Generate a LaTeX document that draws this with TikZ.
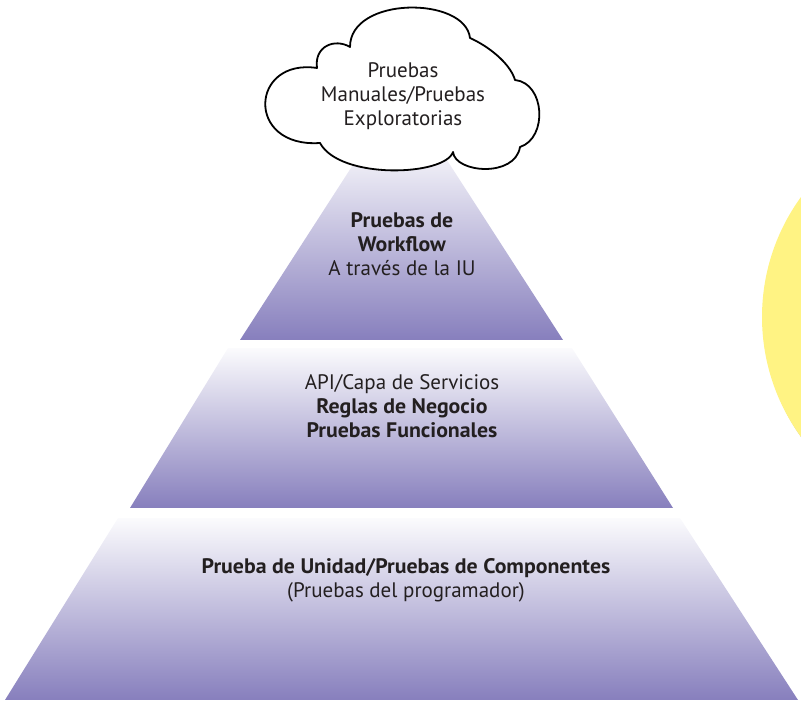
\documentclass[tikz,border=0pt]{standalone}
\usepackage{fontspec}
\setmainfont{PT Sans}[BoldFeatures={FakeStretch=1.04}]
\definecolor{pyrtop}{RGB}{251,251,253}
\definecolor{pyrbot}{RGB}{135,127,189}
\definecolor{sunyel}{RGB}{255,243,131}
\definecolor{textc}{RGB}{35,31,32}
\begin{document}
\begin{tikzpicture}[x=1pt,y=1pt,
  tier/.style={top color=pyrtop,bottom color=pyrbot},
  txt/.style={font=\fontsize{21}{24}\selectfont,align=center,text=textc,inner sep=0pt},
  cloudline/.style={draw=black,line width=1.8pt,fill=white,line join=round}]
\useasboundingbox (0,0) rectangle (801,708);
% yellow disc at right
\fill[black!30] (967.5,389) circle[radius=204pt];
\fill[sunyel] (966,391) circle[radius=204pt];
% pyramid tiers
\shade[tier] (240,368) -- (563,368) -- (434,568) -- (369,568) -- cycle;
\shade[tier] (130,200) -- (673,200) -- (572,360) -- (228,360) -- cycle;
\shade[tier] (5,8) -- (798,8) -- (680,190) -- (118,190) -- cycle;
% cloud
\path[cloudline] (317,640)
  .. controls (250,650) and (245,560) .. (320,565)
  .. controls (340,528) and (445,532) .. (453,556)
  .. controls (455,535) and (515,530) .. (520,561)
  .. controls (548,570) and (545,625) .. (515,628)
  .. controls (510,645) and (488,662) .. (470,670)
  .. controls (465,712) and (350,712) .. (350,661)
  .. controls (335,670) and (314,662) .. (317,640) -- cycle;
% texts
\node[txt] (cloudtxt) at (403,612) {Pruebas\\Manuales/Pruebas\\Exploratorias};
\node[txt] (toptxt) at (402,464) {\textbf{Pruebas de}\\\textbf{Workflow}\\A través de la IU};
\node[txt] (midtxt) at (402,302) {API/Capa de Servicios\\\textbf{Reglas de Negocio}\\\textbf{Pruebas Funcionales}};
\node[txt] (bottxt) at (406,128) {\textbf{Prueba de Unidad/Pruebas de Componentes}\\(Pruebas del programador)};
\end{tikzpicture}
\end{document}
